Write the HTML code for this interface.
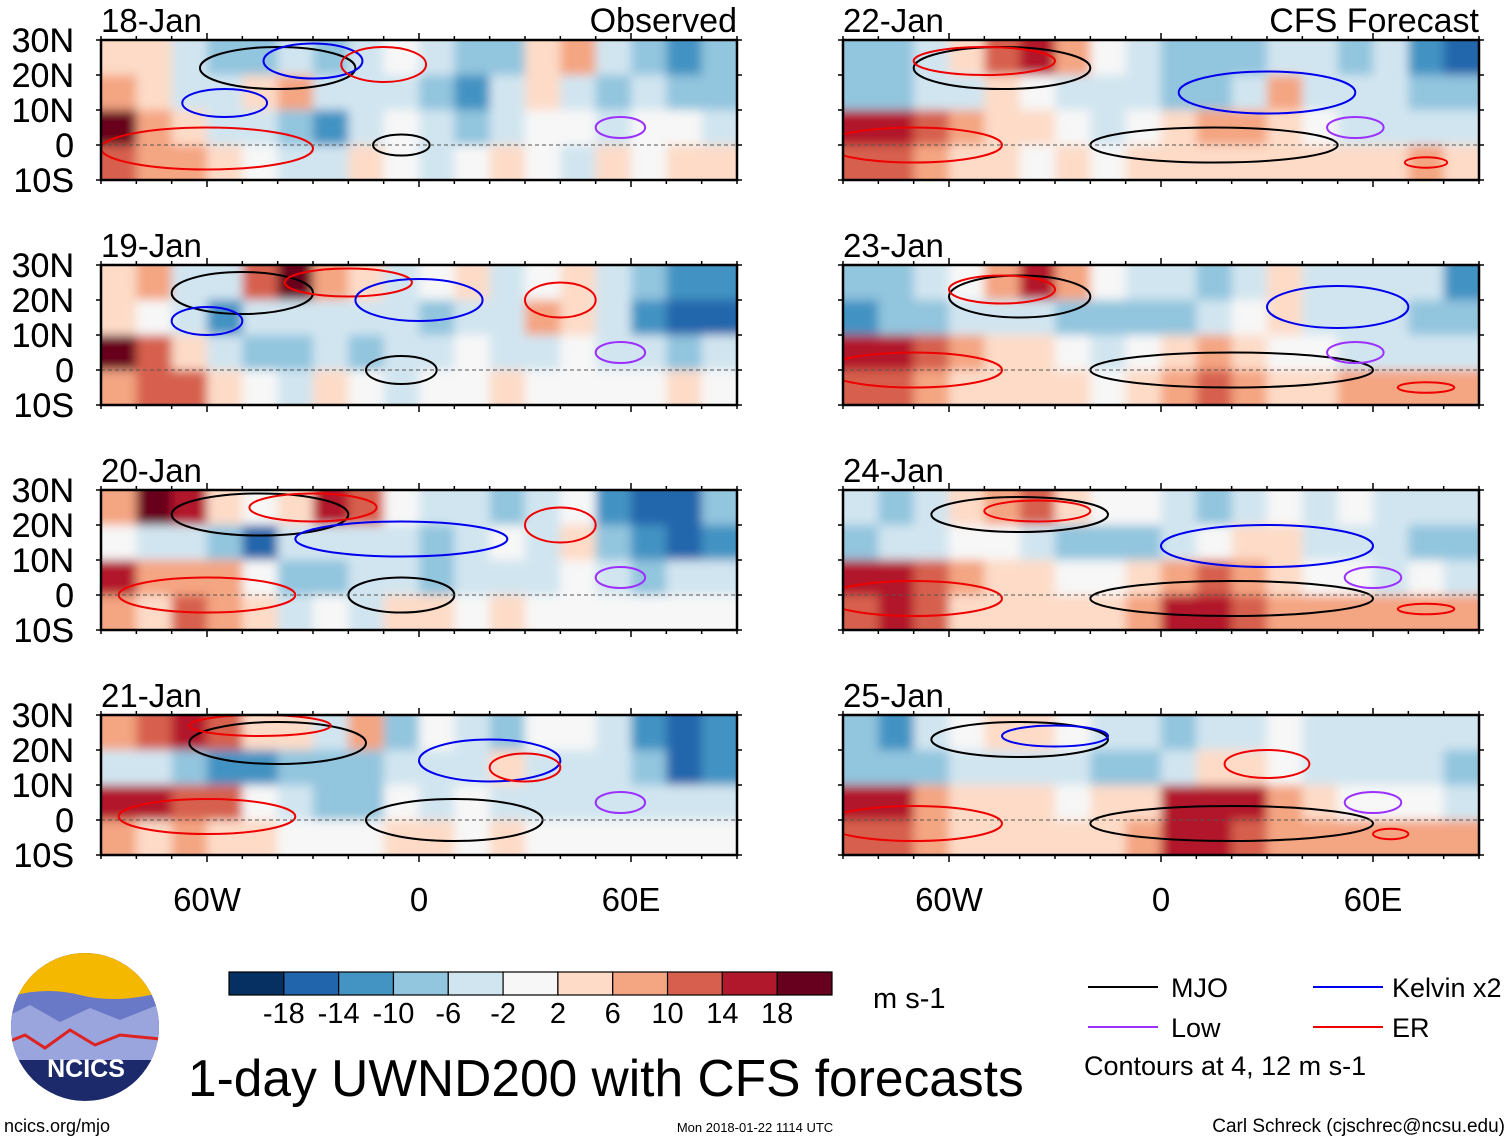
<!DOCTYPE html>
<html><head><meta charset="utf-8">
<style>
body{margin:0;background:#fff;width:1510px;height:1142px;overflow:hidden;font-family:"Liberation Sans",sans-serif;}
svg{position:absolute;left:0;top:0}
</style></head>
<body>
<svg id="chart" width="1510" height="1142" viewBox="0 0 1510 1142" xmlns="http://www.w3.org/2000/svg">
<defs>
<filter id="blur" x="-5%" y="-10%" width="110%" height="120%"><feGaussianBlur stdDeviation="5"/></filter>
</defs>
<g id="panels"></g>
<g id="legend"></g>
</svg>
<script>
const panelDates=["18-Jan","19-Jan","20-Jan","21-Jan","22-Jan","23-Jan","24-Jan","25-Jan"];
const latTicks=["30N","20N","10N","0","10S"];
const lonTicks=["60W","0","60E"];
const lonTickValues=[-60,0,60];
const cbLevels=["-18","-14","-10","-6","-2","2","6","10","14","18"];
const cbColors=["#053061","#2166ac","#4393c3","#92c5de","#d1e5f0","#f7f7f7","#fddbc7","#f4a582","#d6604d","#b2182b","#67001f"];
// u-wind grid per panel: 4 lat rows (30-20N,20-10N,10-0,0-10S) x 18 lon cols (-90..90)
const u18=[[4,2,-6,-10,-8,-6,-8,-4,-2,-6,-10,-8,4,6,-4,-8,-14,-10],[6,4,-4,-6,2,6,-4,-6,-4,-10,-12,-6,4,-6,-8,-6,-10,-8],[18,6,2,-4,-6,-10,-12,-6,-2,-4,-8,-4,-2,-2,-4,-2,-2,-4],[10,6,8,2,-2,-4,-4,2,-2,-4,-2,2,-2,-4,2,-2,2,4]];
const u19=[[4,6,-4,-6,10,18,6,2,-4,-2,2,-6,-2,4,-4,-8,-12,-14],[2,-2,-4,-14,-6,-6,-6,-4,-6,-8,-6,-4,8,2,-6,-12,-18,-16],[18,10,2,-6,-8,-8,-6,-10,-6,-6,-2,-6,-4,-2,-6,-6,-8,-6],[8,12,10,2,-2,-4,2,-2,-4,-2,-2,2,-2,-2,-2,-2,2,-2]];
const u20=[[6,18,14,2,-2,2,14,10,-2,-4,-6,-10,-6,-2,-12,-18,-18,-10],[-2,-4,-6,-8,-16,-6,-6,-6,-6,-8,-6,-2,-4,2,-8,-14,-18,-14],[16,8,6,8,-2,-8,-10,-6,-6,-8,-6,-4,-6,-2,-6,-8,-6,-4],[6,4,10,6,2,-4,-2,-4,2,2,-2,2,-2,-2,-2,-2,-2,-2]];
const u21=[[6,10,14,10,4,2,-4,8,-10,-2,-6,-8,-2,-2,-6,-14,-18,-12],[-4,-6,-8,-14,-12,-10,-8,-10,-6,-6,-4,2,-6,-4,-6,-10,-16,-12],[16,14,12,10,-2,-6,-8,-8,-2,-4,-2,-4,-6,-4,-4,-6,-6,-4],[6,4,6,4,2,-2,-2,-2,4,2,-2,2,-2,-2,-2,-2,-2,-2]];
const u22=[[-8,-10,-6,4,10,16,8,-2,-4,-8,-10,-8,-4,-6,-8,-6,-12,-18],[-10,-8,-6,-4,2,-2,-4,-4,-6,-10,-8,-4,6,-4,-6,-6,-8,-10],[16,14,12,8,4,2,-2,-4,-2,4,8,6,4,-2,-4,-4,-4,-6],[10,12,8,4,2,-2,2,-2,2,4,4,2,2,2,2,4,6,4]];
const u23=[[-10,-8,-6,-2,8,14,6,-2,-4,-6,-8,-6,2,-6,-6,-4,-4,-12],[-14,-10,-8,-4,-4,-6,-8,-10,-8,-10,-6,-2,4,-4,-6,-6,-10,-10],[16,14,10,6,4,2,-2,-4,-2,4,6,2,-2,-2,-4,-4,-4,-6],[10,12,8,4,2,2,2,-2,2,8,12,6,4,4,6,6,8,6]];
const u24=[[-6,-10,-4,2,6,10,4,-2,-2,-6,-10,-4,-2,-4,-2,-4,-6,-6],[-8,-6,-6,-2,-2,-4,-8,-10,-8,-6,-2,2,4,-4,-6,-6,-8,-8],[16,14,12,8,4,2,-2,-2,2,8,10,6,2,-2,-2,-4,-2,-4],[12,14,10,4,4,2,2,2,6,14,16,12,8,6,6,6,8,6]];
const u25=[[-8,-12,-6,-2,4,4,-2,-4,-4,-8,-6,-4,-2,-4,-4,-6,-4,-4],[-10,-8,-8,-6,-4,-6,-6,-8,-8,-6,2,4,-2,-4,-6,-4,-6,-8],[16,14,8,4,4,2,-2,2,4,14,16,14,8,2,-2,-2,-2,-4],[12,12,8,4,4,2,2,2,6,14,16,12,8,6,6,6,8,6]];
const fields=[u18,u19,u20,u21,u22,u23,u24,u25];
// contour ellipses: [type, centerLon, centerLat, lonRadius, latRadius]
const contours18=[["mjo",-40,22,22,6],["kel",-55,12,12,4],["kel",-30,24,14,5],["er",-10,23,12,5],["er",-60,-1,30,6],["mjo",-5,0,8,3],["low",57,5,7,3]];
const contours19=[["mjo",-50,22,20,6],["er",-20,25,18,4],["kel",-60,14,10,4],["kel",0,20,18,6],["mjo",-5,0,10,4],["low",57,5,7,3],["er",40,20,10,5]];
const contours20=[["mjo",-45,23,25,6],["er",-30,25,18,4],["kel",-5,16,30,5],["er",-60,0,25,5],["mjo",-5,0,15,5],["low",57,5,7,3],["er",40,20,10,5]];
const contours21=[["mjo",-40,22,25,6],["er",-45,27,20,3],["kel",20,17,20,6],["er",-60,1,25,5],["mjo",10,0,25,6],["low",57,5,7,3],["er",30,15,10,4]];
const contours22=[["mjo",-45,22,25,6],["er",-50,24,20,4],["kel",30,15,25,6],["er",-70,0,25,5],["mjo",15,0,35,5],["low",55,5,8,3],["er",75,-5,6,1.5]];
const contours23=[["mjo",-40,21,20,6],["er",-45,23,15,4],["kel",50,18,20,6],["er",-70,0,25,5],["mjo",20,0,40,5],["low",55,5,8,3],["er",75,-5,8,1.5]];
const contours24=[["mjo",-40,23,25,5],["er",-35,24,15,3],["kel",30,14,30,6],["er",-70,-1,25,5],["mjo",20,-1,40,5],["low",60,5,8,3],["er",75,-4,8,1.5]];
const contours25=[["mjo",-40,23,25,5],["kel",-30,24,15,3],["er",30,16,12,4],["er",-70,-1,25,5],["mjo",20,-1,40,5],["low",60,5,8,3],["er",65,-4,5,1.5]];
const contourSets=[contours18,contours19,contours20,contours21,contours22,contours23,contours24,contours25];
const cColors={mjo:"#000",kel:"#0000ee",er:"#ee0000",low:"#9b30ff"};

const NS="http://www.w3.org/2000/svg";
function mk(tag,attrs,parent){const e=document.createElementNS(NS,tag);for(const k in attrs)e.setAttribute(k,attrs[k]);if(parent)parent.appendChild(e);return e;}
function colorFor(v){let i=0;while(i<cbLevels.length&&v>=+cbLevels[i])i++;return cbColors[i];}
const PW=636,PH=140;
const panelX=[101,843],panelY=[40,265,490,715];
const root=document.getElementById('panels');
fields.forEach((f,p)=>{
  const x0=panelX[p<4?0:1],y0=panelY[p%4];
  const xs=lon=>x0+(lon+90)/180*PW;
  const ys=lat=>y0+(30-lat)/40*PH;
  const g=mk('g',{},root);
  
  
  const cid='clip'+p;
  const cp=mk('clipPath',{id:cid},g);mk('rect',{x:x0,y:y0,width:PW,height:PH},cp);
  const fg=mk('g',{'clip-path':'url(#'+cid+')'},g);
  const hg=mk('g',{filter:'url(#blur)'},fg);
  
  
  const nr=f.length,nc=f[0].length;
  mk('rect',{x:x0-20,y:y0-20,width:PW+40,height:PH+40,fill:'#f7f7f7'},hg);
  for(let r=0;r<nr;r++)for(let c=0;c<nc;c++){
    const lon0=-90+180*c/nc,lon1=-90+180*(c+1)/nc;
    const lat0=30-40*r/nr,lat1=30-40*(r+1)/nr;
    let X=xs(lon0),W=xs(lon1)-X,Y=ys(lat0),H=ys(lat1)-Y;
    if(c==0){X-=20;W+=20;} if(c==nc-1)W+=20; if(r==0){Y-=20;H+=20;} if(r==nr-1)H+=20;
    const cell=mk('rect',{x:X,y:Y,width:W+0.5,height:H+0.5,fill:colorFor(f[r][c])},hg);
    
    
  }
  contourSets[p].forEach(ct=>{
    const e=mk('ellipse',{cx:xs(ct[1]),cy:ys(ct[2]),rx:ct[3]/180*PW,ry:ct[4]/40*PH,fill:'none',stroke:cColors[ct[0]],'stroke-width':2},fg);
    
    
  });
  const eq=mk('line',{x1:x0,x2:x0+PW,y1:ys(0),y2:ys(0),stroke:'#555','stroke-width':1,'stroke-dasharray':'4,3'},g);
  
  
  const fr=mk('rect',{x:x0,y:y0,width:PW,height:PH,fill:'none',stroke:'#000','stroke-width':2.5},g);
  
  
  for(let lon=-90;lon<=90;lon+=10){
    const big=lon%60==0;
    mk('line',{x1:xs(lon),x2:xs(lon),y1:y0+PH,y2:y0+PH+(big?7:4),stroke:'#000','stroke-width':1.5},g);
    mk('line',{x1:xs(lon),x2:xs(lon),y1:y0,y2:y0-(big?7:4),stroke:'#000','stroke-width':1.5},g);
  }
  for(let lat=-10;lat<=30;lat+=10){
    mk('line',{x1:x0,x2:x0-5,y1:ys(lat),y2:ys(lat),stroke:'#000','stroke-width':1.5},g);
    mk('line',{x1:x0+PW,x2:x0+PW+5,y1:ys(lat),y2:ys(lat),stroke:'#000','stroke-width':1.5},g);
  }
  const t=mk('text',{x:x0,y:y0-8,'font-size':33},g);t.textContent=panelDates[p];
  
  
  if(p==0||p==4){
    const s=mk('text',{x:x0+PW,y:y0-8,'font-size':34,'text-anchor':'end'},g);s.textContent=p==0?"Observed":"CFS Forecast";
    
    
  }
  latTicks.forEach((lb,i)=>{
    const lat=30-10*i;
    const tt=mk('text',{x:74,y:ys(lat)+12,'font-size':34,'text-anchor':'end'},g);tt.textContent=lb;
    
    
  });
  if(p%4==3){
    lonTicks.forEach((lb,i)=>{
      const tt=mk('text',{x:xs(lonTickValues[i]),y:y0+PH+56,'font-size':33,'text-anchor':'middle'},g);tt.textContent=lb;
      
      
    });
  }
});
// colorbar
const L=document.getElementById('legend');
const cbX=229,cbW=603,cbY=972,cbH=23,bw=cbW/cbColors.length;
cbColors.forEach((c,i)=>{
  const r=mk('rect',{x:cbX+i*bw,y:cbY,width:bw,height:cbH,fill:c,stroke:'#000','stroke-width':1.2},L);
  
  
});
cbLevels.forEach((lb,i)=>{
  const t=mk('text',{x:cbX+(i+1)*bw,y:1023,'font-size':29,'text-anchor':'middle'},L);t.textContent=lb;
  
  
});
</script>
<svg width="1510" height="1142" style="pointer-events:none">
<text x="873" y="1008" font-size="29" font-family="Liberation Sans">m s-1</text>
<g font-family="Liberation Sans" font-size="27">
<line x1="1088" x2="1158" y1="987" y2="987" stroke="#000" stroke-width="2"/><text x="1171" y="997">MJO</text>
<line x1="1088" x2="1158" y1="1027" y2="1027" stroke="#9b30ff" stroke-width="2"/><text x="1171" y="1037">Low</text>
<line x1="1313" x2="1383" y1="987" y2="987" stroke="#0000ee" stroke-width="2"/><text x="1392" y="997">Kelvin x2</text>
<line x1="1313" x2="1383" y1="1027" y2="1027" stroke="#ee0000" stroke-width="2"/><text x="1392" y="1037">ER</text>
<text x="1084" y="1075" font-size="27">Contours at 4, 12 m s-1</text>
</g>
<text x="188" y="1096" font-size="51.5" font-family="Liberation Sans">1-day UWND200 with CFS forecasts</text>
<g>
<clipPath id="lc"><circle cx="85" cy="1027" r="74"/></clipPath>
<g clip-path="url(#lc)">
<rect x="0" y="950" width="170" height="160" fill="#1c2a6b"/>
<rect x="0" y="950" width="170" height="50" fill="#f5b800"/>
<path d="M0 1000 Q40 985 80 995 T170 990 L170 1050 L0 1050Z" fill="#6a78c8"/>
<path d="M0 1020 L30 1005 L60 1022 L90 1008 L120 1020 L170 1000 L170 1060 L0 1060Z" fill="#9aa4dd"/>
<path d="M0 1045 L25 1035 L45 1048 L70 1030 L95 1045 L120 1035 L170 1040" stroke="#d22" stroke-width="3" fill="none"/>
</g>
<text x="86" y="1077" font-size="25" font-weight="bold" fill="#fff" text-anchor="middle" font-family="Liberation Sans">NCICS</text>
</g>
<text x="4" y="1132" font-size="18" font-family="Liberation Sans">ncics.org/mjo</text>
<text x="755" y="1132" font-size="13" text-anchor="middle" font-family="Liberation Sans">Mon 2018-01-22 1114 UTC</text>
<text x="1505" y="1132" font-size="19" text-anchor="end" font-family="Liberation Sans">Carl Schreck (cjschrec@ncsu.edu)</text>
</svg>
</body></html>
